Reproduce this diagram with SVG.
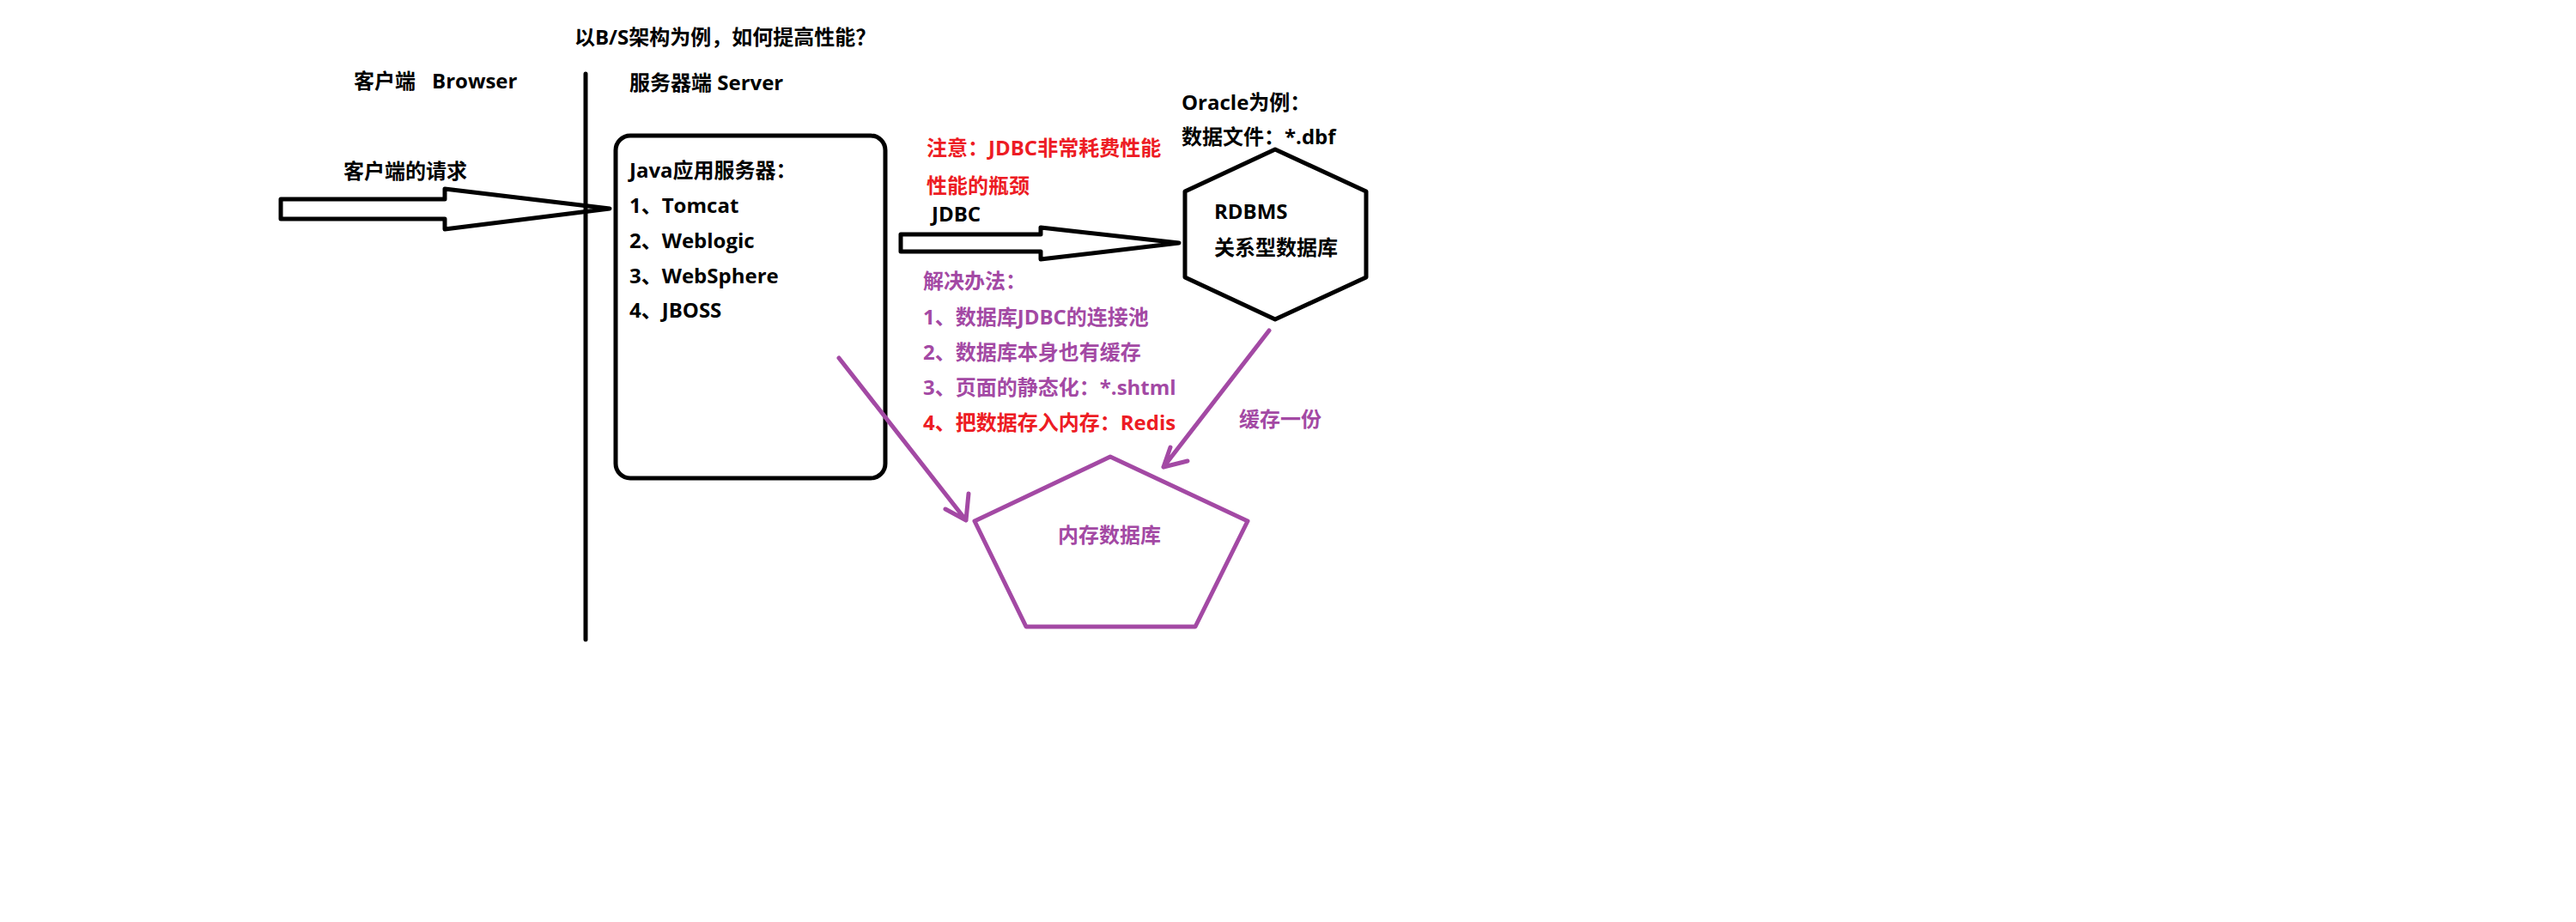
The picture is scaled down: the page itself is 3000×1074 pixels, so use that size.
<svg xmlns="http://www.w3.org/2000/svg" width="3000" height="1074" viewBox="0 0 3000 1074">
<style>
text{font-family:"Open Sans","Noto Sans CJK SC",sans-serif;font-weight:700;font-size:24px}
.k{fill:#000}
.r{fill:#ED1C24}
.p{fill:#A349A4}
.title{font-size:24px}
.blk{fill:none;stroke:#000;stroke-width:5;stroke-linejoin:round;stroke-linecap:round}
.pur{fill:none;stroke:#A349A4;stroke-width:5;stroke-linejoin:round;stroke-linecap:round}
</style>
<rect width="3000" height="1074" fill="#fff"/>
<g id="labels">
<text class="k title" x="669" y="52">以B/S架构为例，如何提高性能？</text>
<text class="k" x="412" y="103">客户端<tspan x="503">Browser</tspan></text>
<text class="k" x="733" y="105">服务器端 Server</text>
<line class="blk" x1="682" y1="86" x2="682" y2="745"/>
</g>
<g id="java-server">
<rect class="blk" x="717" y="158" width="314" height="399" rx="17"/>
<text class="k" x="733" y="207">Java应用服务器：</text>
<text class="k" x="733" y="248">1、Tomcat</text>
<text class="k" x="733" y="289">2、Weblogic</text>
<text class="k" x="733" y="330">3、WebSphere</text>
<text class="k" x="733" y="370">4、JBOSS</text>
</g>
<g id="rdbms">
<polygon class="blk" points="1485,174 1591,223 1591,323 1485,372 1380,323 1380,223"/>
<text class="k" x="1376" y="128">Oracle为例：</text>
<text class="k" x="1376" y="168">数据文件：*.dbf</text>
<text class="k" x="1414" y="255">RDBMS</text>
<text class="k" x="1414" y="297">关系型数据库</text>
</g>
<g id="memory-db">
<polygon class="pur" points="1293,532 1453,607 1392,730 1195,730 1135,607"/>
<text class="p" x="1232" y="632">内存数据库</text>
</g>
<g id="notes">
<text class="r" x="1079" y="181">注意：JDBC非常耗费性能</text>
<text class="r" x="1079" y="225">性能的瓶颈</text>
<text class="p" x="1075" y="336">解决办法：</text>
<text class="p" x="1075" y="378">1、数据库JDBC的连接池</text>
<text class="p" x="1075" y="419">2、数据库本身也有缓存</text>
<text class="p" x="1075" y="460">3、页面的静态化：*.shtml</text>
<text class="r" x="1075" y="501">4、把数据存入内存：Redis</text>
</g>
<g id="connectors">
<text class="k" x="400" y="208">客户端的请求</text>
<path class="blk" d="M327,232 L518,232 L518,220 L710,243 L518,267 L518,255 L327,255 Z"/>
<text class="k" x="1085" y="258">JDBC</text>
<path class="blk" d="M1049,273 L1212,273 L1212,265 L1373,283 L1212,302 L1212,293 L1049,293 Z"/>
<path class="pur" d="M977,417 L1125,606 M1128,575 L1125,606 L1101,593"/>
<path class="pur" d="M1478,385 L1355,544 M1363,521 L1355,544 L1383,537"/>
<text class="p" x="1443" y="497">缓存一份</text>
</g>
</svg>
